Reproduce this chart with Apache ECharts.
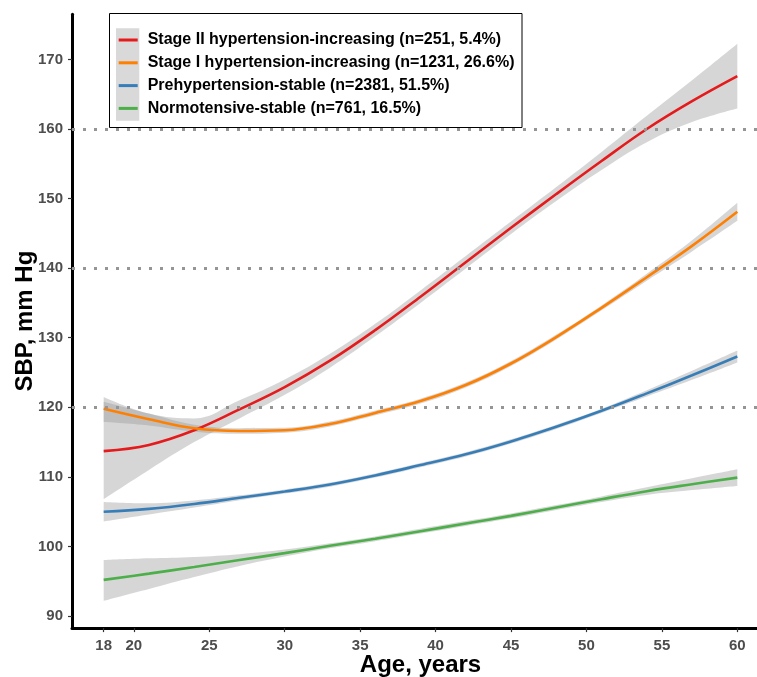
<!DOCTYPE html>
<html>
<head>
<meta charset="utf-8">
<script src="https://cdn.jsdelivr.net/npm/echarts@6/dist/echarts.min.js"></script>
<style>
html,body{margin:0;padding:0;background:#fff;}
#chart{width:757px;height:677px;}
</style>
</head>
<body>
<div id="chart"></div>
<script>
// ---- data ----
const ages = [18, 21, 24, 27, 30, 33, 36, 39, 42, 45, 48, 51, 54, 57, 60];

const stage2Name = 'Stage II hypertension-increasing (n=251, 5.4%)';
const stage2Mid  = [113.7, 114.6, 116.7, 119.7, 122.9, 126.7, 131.1, 135.9, 140.85, 145.8, 150.65, 155.4, 160.0, 164.0, 167.6];
const stage2Low  = [106.8, 111.0, 115.0, 118.4, 121.8, 125.7, 130.2, 135.0, 139.95, 144.9, 149.65, 154.1, 158.1, 161.0, 162.95];
const stage2High = [121.5, 119.1, 118.4, 121.0, 124.0, 127.7, 132.0, 136.8, 141.75, 146.7, 151.65, 156.7, 161.9, 167.0, 172.25];

const stage1Name = 'Stage I hypertension-increasing (n=1231, 26.6%)';
const stage1Mid  = [119.8, 118.3, 117.0, 116.6, 116.7, 117.6, 119.2, 120.9, 123.2, 126.3, 130.1, 134.3, 138.7, 143.2, 148.1];
const stage1Low  = [117.9, 117.4, 116.5, 116.2, 116.35, 117.25, 118.85, 120.55, 122.85, 125.95, 129.75, 133.95, 138.2, 142.4, 146.8];
const stage1High = [120.8, 119.1, 117.5, 117.0, 117.05, 117.95, 119.55, 121.25, 123.55, 126.65, 130.45, 134.65, 139.2, 144.0, 149.4];

const preName = 'Prehypertension-stable (n=2381, 51.5%)';
const preMid  = [105.0, 105.4, 106.1, 107.0, 107.9, 108.9, 110.2, 111.7, 113.25, 115.1, 117.2, 119.5, 122.0, 124.6, 127.3];
const preLow  = [103.6, 104.6, 105.6, 106.65, 107.6, 108.6, 109.9, 111.4, 112.95, 114.8, 116.9, 119.2, 121.55, 123.95, 126.45];
const preHigh = [106.4, 106.2, 106.6, 107.35, 108.2, 109.2, 110.5, 112.0, 113.55, 115.4, 117.5, 119.8, 122.45, 125.25, 128.15];

const normName = 'Normotensive-stable (n=761, 16.5%)';
const normMid  = [95.2, 96.1, 97.05, 98.05, 99.05, 100.1, 101.1, 102.2, 103.3, 104.4, 105.6, 106.8, 107.95, 108.95, 109.9];
const normLow  = [92.2, 93.9, 95.6, 97.2, 98.55, 99.75, 100.75, 101.85, 102.95, 104.05, 105.25, 106.4, 107.4, 108.1, 108.7];
const normHigh = [98.05, 98.3, 98.5, 98.9, 99.55, 100.45, 101.45, 102.55, 103.65, 104.75, 105.95, 107.2, 108.5, 109.8, 111.1];

const xTicks = [18, 20, 25, 30, 35, 40, 45, 50, 55, 60];
const yTicks = [90, 100, 110, 120, 130, 140, 150, 160, 170];
const refLines = [120, 140, 160];

// ---- chart ----
const FONT = '"Liberation Sans", Arial, Helvetica, sans-serif';
const groups = [
  {name: stage2Name, color: '#E41A1C', mid: stage2Mid, low: stage2Low, high: stage2High},
  {name: stage1Name, color: '#FF7F00', mid: stage1Mid, low: stage1Low, high: stage1High},
  {name: preName,    color: '#377EB8', mid: preMid,    low: preLow,    high: preHigh},
  {name: normName,   color: '#4DAF4A', mid: normMid,   low: normLow,   high: normHigh}
];
const SMOOTH = 0.4;
const series = [];
// Confidence ribbons: value dimension first so that stacking applies to y.
groups.forEach((g, i) => {
  series.push({
    type: 'line', name: '_lo' + i, stack: 'ci' + i, smooth: SMOOTH, symbol: 'none', silent: true, z: 1,
    dimensions: ['v', 'age'], encode: {x: 'age', y: 'v'},
    data: ages.map((a, k) => [g.low[k], a]),
    lineStyle: {width: 0, opacity: 0}
  });
  series.push({
    type: 'line', name: '_band' + i, stack: 'ci' + i, smooth: SMOOTH, symbol: 'none', silent: true, z: 1,
    dimensions: ['v', 'age'], encode: {x: 'age', y: 'v'},
    data: ages.map((a, k) => [g.high[k] - g.low[k], a]),
    lineStyle: {width: 0, opacity: 0},
    areaStyle: {color: '#999999', opacity: 0.4}
  });
});
series.push({
  type: 'line', name: '_ref', data: [], silent: true, z: 2,
  markLine: {
    silent: true, symbol: ['none', 'none'], animation: false,
    label: {show: false},
    lineStyle: {type: [3, 8], color: '#959595', width: 3},
    emphasis: {disabled: true},
    data: refLines.map(v => ({yAxis: v}))
  }
});
groups.forEach((g) => {
  series.push({
    type: 'line', name: g.name, color: g.color, smooth: SMOOTH, symbol: 'none', z: 3,
    data: ages.map((a, k) => [a, g.mid[k]]),
    lineStyle: {color: g.color, width: 2.6}
  });
});

const chart = echarts.init(document.getElementById('chart'), null, {renderer: 'canvas'});
chart.setOption({
  animation: false,
  backgroundColor: '#ffffff',
  textStyle: {fontFamily: FONT},
  grid: {left: 72, top: 14.2, right: -12, bottom: 48.9, containLabel: false, outerBoundsMode: 'none'},
  xAxis: {
    type: 'value', min: 15.9, max: 62.1,
    name: 'Age, years', nameLocation: 'middle', nameGap: 25, nameMoveOverlap: false,
    nameTextStyle: {fontSize: 24, fontWeight: 'bold', color: '#000', fontFamily: FONT, verticalAlign: 'top'},
    axisLine: {show: true, onZero: false, lineStyle: {color: '#000', width: 3}},
    axisTick: {show: true, customValues: xTicks, length: 4, lineStyle: {color: '#333', width: 1.2}},
    axisLabel: {customValues: xTicks, color: '#4d4d4d', fontWeight: 'bold', fontSize: 15, margin: 10, fontFamily: FONT},
    splitLine: {show: false}
  },
  yAxis: {
    type: 'value', min: 88.27, max: 176.5,
    name: 'SBP, mm Hg', nameLocation: 'middle', nameGap: 35, nameRotate: 90, nameMoveOverlap: false,
    nameTextStyle: {fontSize: 24, fontWeight: 'bold', color: '#000', fontFamily: FONT},
    axisLine: {show: true, onZero: false, lineStyle: {color: '#000', width: 3}},
    axisTick: {show: true, customValues: yTicks, length: 4, lineStyle: {color: '#333', width: 1.2}},
    axisLabel: {customValues: yTicks, color: '#4d4d4d', fontWeight: 'bold', fontSize: 15, margin: 9, fontFamily: FONT},
    splitLine: {show: false}
  },
  legend: {
    data: groups.map(g => g.name),
    orient: 'vertical', left: 118.7, top: 28.6, padding: 0, itemGap: 0,
    itemWidth: 19, itemHeight: 3, icon: 'rect',
    selectedMode: false,
    textStyle: {fontSize: 16, fontWeight: 'bold', color: '#000', lineHeight: 22.8, fontFamily: FONT, padding: [0, 0, 0, 5]}
  },
  graphic: [
    {type: 'rect', z: 0, silent: true, shape: {x: 109.5, y: 13.5, width: 412.5, height: 114}, style: {fill: '#ffffff', stroke: '#000', lineWidth: 1}},
    {type: 'rect', z: 0, silent: true, shape: {x: 116, y: 28.3, width: 23.3, height: 92.4}, style: {fill: '#d9d9d9'}}
  ],
  series: series
});
</script>
</body>
</html>
